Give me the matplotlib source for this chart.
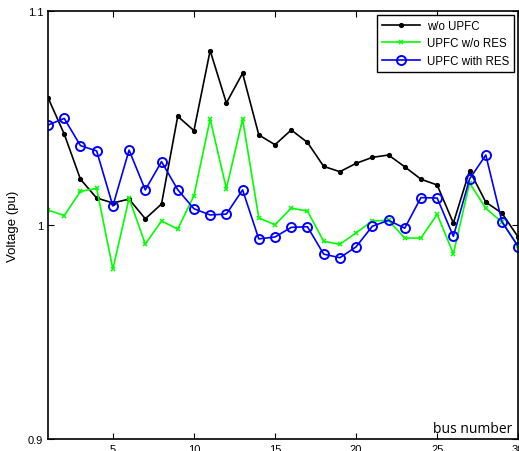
import matplotlib
matplotlib.use("Agg")
import matplotlib.pyplot as plt
import numpy as np

bus = np.arange(1, 31)

v_no_upfc = [1.0595, 1.0425, 1.0214, 1.0126, 1.0103, 1.0121, 1.0029, 1.0098, 1.0508, 1.0441,
             1.0815, 1.0570, 1.0709, 1.0421, 1.0375, 1.0444, 1.0386, 1.0274, 1.0249, 1.0288,
             1.0316, 1.0327, 1.0272, 1.0214, 1.0187, 1.0009, 1.0254, 1.0107, 1.0055, 0.9943]
v_upfc_no_res = [1.0070, 1.0044, 1.0157, 1.0171, 0.9794, 1.0125, 0.9911, 1.0019, 0.9981, 1.0137,
                 1.0495, 1.0170, 1.0495, 1.0033, 1.0001, 1.0079, 1.0065, 0.9924, 0.9910, 0.9963,
                 1.0019, 1.0022, 0.9939, 0.9939, 1.0050, 0.9866, 1.0196, 1.0078, 1.0013, 0.9900]
v_upfc_res = [1.0467, 1.0498, 1.0371, 1.0346, 1.0089, 1.0350, 1.0164, 1.0296, 1.0165, 1.0076,
              1.0047, 1.0051, 1.0164, 0.9935, 0.9944, 0.9989, 0.9992, 0.9864, 0.9847, 0.9898,
              0.9994, 1.0022, 0.9985, 1.0128, 1.0126, 0.9947, 1.0215, 1.0327, 1.0015, 0.9899]

plt.rcParams['font.family'] = ['Liberation Sans', 'DejaVu Sans']

fig = plt.figure(figsize=(5.19, 4.52), dpi=100)
ax = fig.add_axes([0.0925, 0.0265, 0.906, 0.947])

ax.plot(bus, v_no_upfc, color='black', marker='.', markersize=5.5, lw=1.2, label='w/o UPFC')
ax.plot(bus, v_upfc_no_res, color='#00ff00', marker='x', markersize=3.5, mew=1.1, lw=1.2,
        label='UPFC w/o RES')
ax.plot(bus, v_upfc_res, color='#0000ff', marker='o', markersize=6.5, mfc='none', mew=1.4, lw=1.2,
        label='UPFC with RES')

ax.set_xlim(1, 30)
ax.set_ylim(0.9, 1.1)
ax.set_xticks([5, 10, 15, 20, 25, 30])
ax.set_yticks([0.9, 1.0, 1.1])
ax.set_yticklabels(['0.9', '1', '1.1'])
ax.tick_params(direction='in', top=True, right=True, labelsize=8, length=4, width=0.8)
for s in ax.spines.values():
    s.set_linewidth(1.2)

ax.set_ylabel('Voltage (pu)', fontsize=9.5, labelpad=6)
ax.text(0.987, 0.008, 'bus number', transform=ax.transAxes, ha='right', va='bottom',
        fontsize=10, family=['Open Sans', 'DejaVu Sans'])

leg = ax.legend(loc='upper right', fontsize=8.3, fancybox=False, framealpha=1,
                edgecolor='black', borderaxespad=0.35, handlelength=3.3, labelspacing=0.45,
                borderpad=0.45, handletextpad=0.6)
leg.get_frame().set_linewidth(1.0)

fig.savefig('out.png', dpi=100)
